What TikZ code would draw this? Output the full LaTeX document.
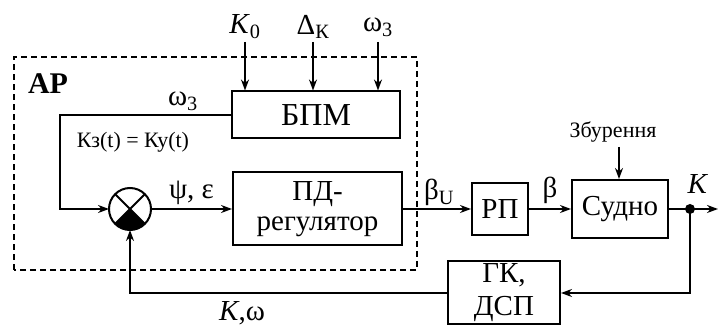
\documentclass[tikz,border=0pt]{standalone}
\usepackage{fontspec}
\setmainfont{Liberation Serif}
\usetikzlibrary{arrows.meta,positioning}

\begin{document}
\begin{tikzpicture}[x=1pt,y=1pt,
 blk/.style={draw,line width=2pt,align=center,inner sep=0pt,font=\fontsize{29}{30}\selectfont},
 sumnode/.style={circle,draw,line width=2pt,minimum size=42pt,inner sep=0pt,outer sep=0pt},
 arr/.style={-{Stealth[length=11pt,width=8pt]},line width=2pt},
 lbl/.style={inner sep=1pt,font=\fontsize{29}{29}\selectfont},
 small/.style={inner sep=1pt,font=\fontsize{22}{22}\selectfont}
]
\useasboundingbox (0,0) rectangle (718,329);
\draw[line width=1.5pt,dash pattern=on 6pt off 4pt] (14,59) rectangle (417,272);
\node[font=\fontsize{30}{30}\selectfont\bfseries] (ar) at (48,245) {АР};

\node[blk,minimum width=168pt,minimum height=47pt,font=\fontsize{32}{32}\selectfont] (bpm) at (316,214) {БПМ};
\node[blk,minimum width=169pt,minimum height=73pt] (pd) at (317.5,120) {ПД-\\регулятор};
\node[blk,minimum width=56pt,minimum height=52pt] (rp) at (500,120) {РП};
\node[blk,minimum width=96pt,minimum height=58pt] (ship) at (620,120) {Судно};
\node[blk,minimum width=112pt,minimum height=63pt] (gk) at (504,36) {ГК,\\[3pt]ДСП};
\node[sumnode] (sum) at (130,120) {};
\draw[line width=1.8pt] (sum.45) -- (sum.-135) (sum.135) -- (sum.-45);
\fill (sum.center) -- (sum.-45) arc[start angle=-45,end angle=-135,radius=21pt] -- cycle;

\coordinate (in1) at (245,287);
\coordinate (in2) at (313,287);
\coordinate (in3) at (378,287);
\node[lbl] (k0) at (245,302) {\textit{K}\textsubscript{0}};
\node[lbl] (dk) at (313,302) {Δ\textsubscript{К}};
\node[lbl] (w3) at (378,302) {ω\textsubscript{3}};
\draw[arr] (in1) -- (in1 |- bpm.north);
\draw[arr] (in2) -- (in2 |- bpm.north);
\draw[arr] (in3) -- (in3 |- bpm.north);

\coordinate (lc) at (60,120);
\draw[arr] (bpm.west) -| (lc) -- (sum.west);
\node[lbl] (w3b) at (183,228) {ω\textsubscript{3}};
\node[small] (kz) at (133,187) {Кз(t) = Ку(t)};

\draw[arr] (sum.east) -- node[lbl,above=2pt] {ψ, ε} (pd.west);
\draw[arr] (pd.east) -- node[lbl,above=1pt,xshift=2pt] {β\textsubscript{U}} (rp.west);
\draw[arr] (rp.east) -- node[lbl,above=3pt] {β} (ship.west);

\node[small] (dist) at (613,197) {Збурення};
\coordinate (dtop) at (619,182);
\draw[arr] (dtop) -- (dtop |- ship.north);

\coordinate (dot) at (690,120);
\coordinate (out) at (718,120);
\draw[arr] (ship.east) -- (out);
\fill (dot) circle (5pt);
\node[lbl] (kout) at (698,145) {\textit{K}};
\draw[arr] (dot) |- (gk.east);
\draw[arr] (gk.west) -| (sum.south);
\node[lbl] (kw) at (242,16) {\textit{K},ω};
\end{tikzpicture}
\end{document}
